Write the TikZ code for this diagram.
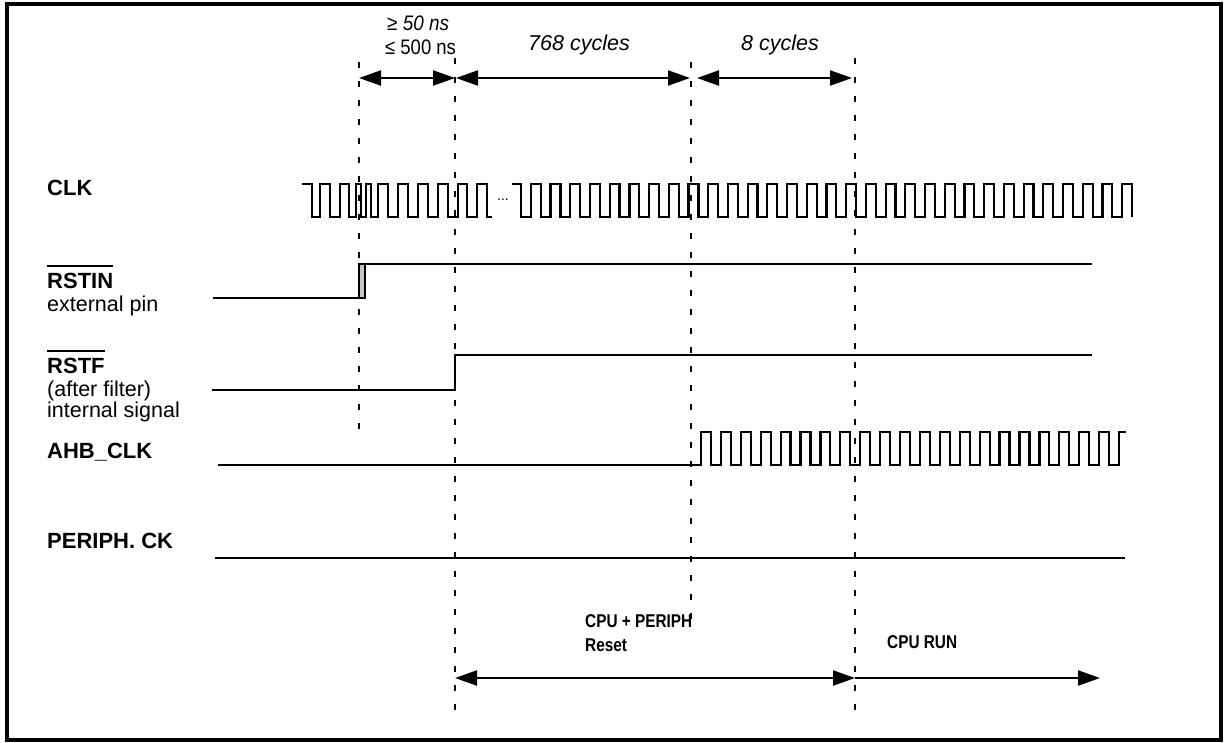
\documentclass[tikz,border=0pt]{standalone}
\usepackage{fontspec}
\setmainfont{Liberation Sans}
\usetikzlibrary{arrows.meta}
\begin{document}
\begin{tikzpicture}[x=1pt,y=-1pt,
  wave/.style={line width=2.2pt, line join=miter},
  vdash/.style={line width=2pt, dash pattern=on 6pt off 13pt},
  dimarrow/.style={line width=2.2pt, {Triangle[length=22pt,width=15pt]}-{Triangle[length=22pt,width=15pt]}},
  onearrow/.style={line width=2.2pt, -{Triangle[length=22pt,width=15pt]}},
  lbl/.style={anchor=west, inner sep=0pt, font=\fontsize{22}{24}\selectfont\bfseries},
  sublbl/.style={anchor=west, inner sep=0pt, font=\fontsize{21.5}{23}\selectfont},
  toplbl/.style={anchor=west, inner sep=0pt, font=\fontsize{21}{23}\selectfont},
  botlbl/.style={anchor=west, inner sep=0pt, font=\fontsize{18.5}{20}\selectfont\bfseries},
  ovl/.style={line width=2.5pt},
]
\useasboundingbox (0,0) rectangle (1225,742);
% frame
\draw[line width=4pt] (7,4) rectangle (1221,740);

% dashed time markers
\coordinate (d1t) at (359,62);  \coordinate (d1b) at (359,430);
\coordinate (d2t) at (455,58);  \coordinate (d2b) at (455,718);
\coordinate (d3t) at (691,62);  \coordinate (d3b) at (691,620);
\coordinate (d4t) at (855,58);  \coordinate (d4b) at (855,718);
\draw[vdash] (d1t) -- (d1b);
\draw[vdash] (d2t) -- (d2b);
\draw[vdash] (d3t) -- (d3b);
\draw[vdash] (d4t) -- (d4b);

% top dimension arrows
\coordinate (a1) at (359,78);
\coordinate (a2) at (456,78);
\coordinate (a3) at (690,78);
\coordinate (a4) at (697,78);
\coordinate (a5) at (852,78);
\draw[dimarrow] (a1) -- (455,78);
\draw[dimarrow] (a2) -- (a3);
\draw[dimarrow] (a4) -- (a5);

\node[toplbl] (t1) at (387,23) {\scalebox{0.9}[1]{≥ \itshape 50 ns}};
\node[toplbl] (t2) at (385,47) {\scalebox{0.88}[1]{≤ 500 ns}};
\node[toplbl, font=\fontsize{21.5}{23}\selectfont\itshape] (t3) at (528,45) {768 cycles};
\node[toplbl, font=\fontsize{21.5}{23}\selectfont\itshape] (t4) at (741,45) {8 cycles};

% left labels
\node[lbl] (lclk) at (47,188) {CLK};
\node[lbl] (lrstin) at (47,281) {RSTIN};
\draw[ovl] ([yshift=7pt]lrstin.north west) -- ([yshift=7pt]lrstin.north east);
\node[sublbl] (lext) at (47,306) {external pin};
\node[lbl] (lrstf) at (47,366) {RSTF};
\draw[ovl] ([yshift=7pt]lrstf.north west) -- ([yshift=7pt]lrstf.north east);
\node[sublbl] (lafter) at (47,391) {(after filter)};
\node[sublbl] (lint) at (47,412) {internal signal};
\node[lbl] (lahb) at (47,452) {AHB\_CLK};
\node[lbl] (lper) at (47,541) {PERIPH. CK};

% CLK waveform, first part
\draw[wave] (302,184) -| (312,217) -| (320,184) -| (330,217) -| (340,184)
  -| (349,217) -| (356,184) -| (361,217) -| (366,184) -| (371,217) -| (378,184)
  -| (388,217) -| (398,184) -| (408,217) -| (418,184) -| (428,217) -| (438,184)
  -| (448,217) -| (458,184) -| (467,217) -| (477,184) -| (487,217) -- (492,217);
\node[inner sep=0pt, font=\fontsize{14}{14}\selectfont] (dots) at (503,200) {...};
% CLK waveform, second part
\draw[wave] (512,184) \foreach \k in {0,...,30} {
    -| ({521+\k*19.71},217) -| ({521+\k*19.71+9.855},184) } -| (1132,217);

% RSTIN
\draw[wave] (213,298) -- (359,298);
\filldraw[wave, fill=gray!45] (359,264) rectangle (365,298);
\draw[wave] (359,264) -- (1092,264);

% RSTF
\draw[wave] (212,390) -| (455,355) -- (1092,355);

% AHB_CLK
\draw[wave] (218,465) -| (701,432) \foreach \k in {0,...,20} {
    -| ({701+\k*19.905+9.95},465) -| ({701+(\k+1)*19.905},432) } -- (1126,432);

% PERIPH. CK
\draw[wave] (215,558) -- (1125,558);

% bottom phases
\coordinate (b1) at (455,678);
\coordinate (b2) at (855,678);
\coordinate (b3) at (1100,678);
\draw[dimarrow] (b1) -- (b2);
\draw[onearrow] (b2) -- (b3);
\node[botlbl] (lcpu) at (585,621) {\scalebox{0.83}[1]{CPU + PERIPH}};
\node[botlbl] (lreset) at (585,645) {\scalebox{0.83}[1]{Reset}};
\node[botlbl] (lrun) at (887,642) {\scalebox{0.83}[1]{CPU RUN}};
\end{tikzpicture}
\end{document}
